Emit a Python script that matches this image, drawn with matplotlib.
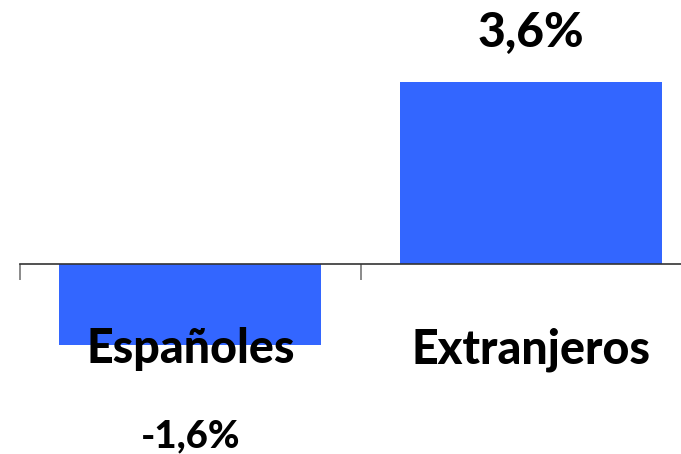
import matplotlib
matplotlib.use("Agg")
import matplotlib.pyplot as plt
from matplotlib.ticker import FixedLocator

categories = ["Españoles", "Extranjeros"]
values = [-1.6, 3.6]
value_labels = ["-1,6%", "3,6%"]

plt.rcParams['font.family'] = ['Lato', 'DejaVu Sans']

fig = plt.figure(figsize=(6.81, 4.54), dpi=100)
# axis spans from x=20px past the right edge; baseline at y=264px
ax = fig.add_axes([20 / 681, 0, 681 / 681, 1])
px_per_unit = 50.6
ax.set_xlim(-0.5, 1.5)
ax.set_ylim(-(454 - 264) / px_per_unit, 264 / px_per_unit)

x = list(range(len(categories)))
ax.bar(x, values, width=0.77, color='#3366ff', zorder=2)

for s in ['left', 'right', 'top']:
    ax.spines[s].set_visible(False)
ax.spines['bottom'].set_position(('data', 0))
ax.spines['bottom'].set_color('#333333')
ax.spines['bottom'].set_linewidth(1.2)
ax.set_yticks([])
ax.xaxis.set_major_locator(FixedLocator([-0.5, 0.5, 1.5]))
ax.tick_params(axis='x', direction='out', length=11.5, width=1.2,
               color='#777777', labelbottom=False)

# category labels below the baseline
for i, name in enumerate(categories):
    ax.text(i, -99 / px_per_unit, name, ha='center', va='baseline',
            fontsize=33.5, fontweight='black', color='black')

# value labels
label_sizes = [27.5, 34.5]
for i, (v, lab) in enumerate(zip(values, value_labels)):
    if v >= 0:
        y = v + 35 / px_per_unit
    else:
        y = v - 102 / px_per_unit
    ax.text(i, y, lab, ha='center', va='baseline', fontsize=label_sizes[i],
            fontweight='black', color='black')

fig.savefig("out.png", dpi=100)
